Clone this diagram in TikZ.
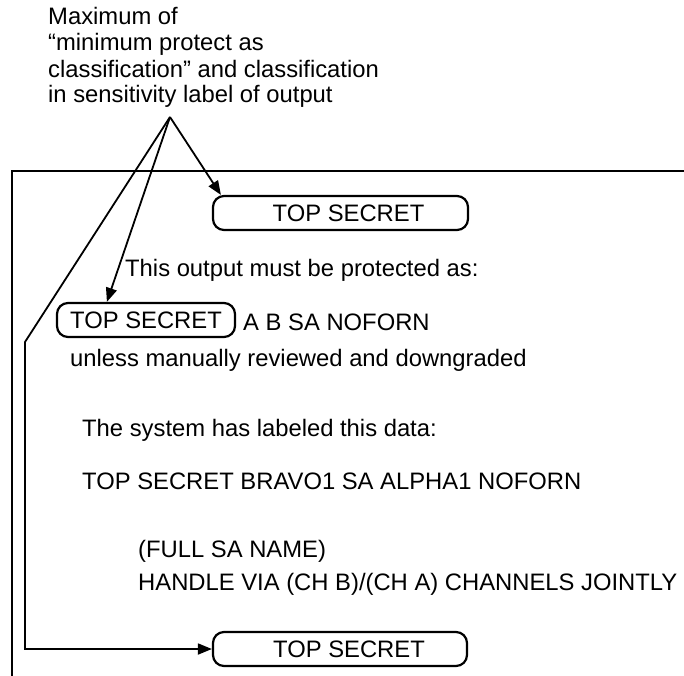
\documentclass[tikz,border=0pt]{standalone}
\usepackage{fontspec}
\setmainfont{Liberation Sans}
\usetikzlibrary{arrows.meta}
\tikzset{
  txt/.style={anchor=base west, inner sep=0pt},
  tsbox/.style={draw, line width=2.2pt, rounded corners=11pt, inner sep=0pt, minimum height=34pt},
  conn/.style={line width=1.8pt, -{Triangle[length=14pt,width=11pt]}},
  frame/.style={line width=2.6pt},
}
\begin{document}
\begin{tikzpicture}[x=1pt,y=-1pt, font=\fontsize{23.8}{26}\selectfont]
\useasboundingbox (0,0) rectangle (684,675);
% frame
\draw[frame] (684,171) -- (12,171) -- (12,676);
% caption
\node[txt] (c1) at (48,24) {Maximum of};
\node[txt] (c2) at (48,50) {“minimum protect as};
\node[txt] (c3) at (48,77) {classification” and classification};
\node[txt] (c4) at (48,102) {in sensitivity label of output};
\coordinate (apex) at (170,117);
% boxes
\node[tsbox, minimum width=255pt] (b1) at (340.5,213) {\hspace*{16pt}TOP SECRET};
\node[tsbox, minimum width=178pt] (b2) at (146,320) {TOP SECRET};
\node[tsbox, minimum width=254pt] (b3) at (340,649) {\hspace*{18pt}TOP SECRET};
% texts
\node[txt] (p1) at (125,276) {This output must be protected as:};
\node[txt] (p2) at (243,330) {A B SA NOFORN};
\node[txt] (p3) at (70,366) {unless manually reviewed and downgraded};
\node[txt] (s1) at (82,436) {The system has labeled this data:};
\node[txt] (s2) at (82,489) {TOP SECRET BRAVO1 SA ALPHA1 NOFORN};
\node[txt] (s3) at (138,557) {(FULL SA NAME)};
\node[txt] (s4) at (138,590) {HANDLE VIA (CH B)/(CH A) CHANNELS JOINTLY};
% connectors
\coordinate (k1) at (25,342);
\coordinate (k2) at (25,649);
\draw[conn] (apex) -- ([xshift=9pt]b1.north west);
\draw[conn] (apex) -- ([xshift=51pt]b2.north west);
\draw[conn] (apex) -- (k1) -- (k2) -- (b3.west);
\end{tikzpicture}
\end{document}
